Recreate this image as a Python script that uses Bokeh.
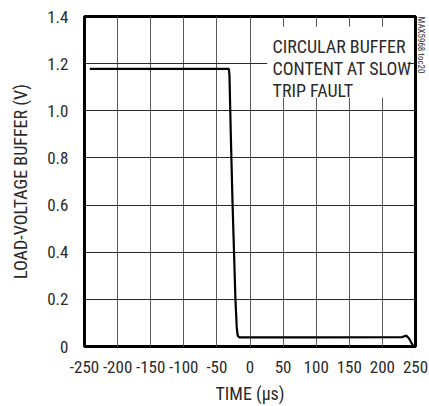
from bokeh.plotting import figure
from bokeh.models import Range1d, FixedTicker, BoxAnnotation, Label, Title
from bokeh.embed import file_html
from bokeh.resources import INLINE

# ---- data ----
time_us = [-242, -32, -31, -29, -26.5, -22, -20, -18.5, -16, 0, 100, 230, 236, 240, 247]
load_v = [1.178, 1.178, 1.15, 0.90, 0.62, 0.20, 0.08, 0.045, 0.039, 0.039, 0.039, 0.040, 0.046, 0.035, 0.0]

x_ticks = [-250, -200, -150, -100, -50, 0, 50, 100, 150, 200, 250]
x_tick_labels = ["-250", "-200", "-150", "-100", "-50", "0", "50", "100", "150", "200", "250"]
y_ticks = [0, 0.2, 0.4, 0.6, 0.8, 1.0, 1.2, 1.4]
y_tick_labels = ["0", "0.2", "0.4", "0.6", "0.8", "1.0", "1.2", "1.4"]

note_lines = ["CIRCULAR BUFFER", "CONTENT AT SLOW", "TRIP FAULT"]
side_note = "MAX5968 toc20"

FONT = "Roboto Condensed"
TXT = "#2a2a2a"

p = figure(width=429, height=406, output_backend="svg", toolbar_location=None,
           x_range=Range1d(-250, 250), y_range=Range1d(0, 1.4),
           min_border_left=84, min_border_right=14, min_border_top=16, min_border_bottom=59)

p.background_fill_color = "white"
p.border_fill_color = "white"
p.outline_line_color = "black"
p.outline_line_width = 3

p.xaxis.ticker = FixedTicker(ticks=x_ticks)
p.yaxis.ticker = FixedTicker(ticks=y_ticks)
p.xaxis.major_label_overrides = {t: l for t, l in zip(x_ticks, x_tick_labels)}
p.yaxis.major_label_overrides = {t: l for t, l in zip(y_ticks, y_tick_labels)}

for ax in (p.xaxis, p.yaxis):
    ax.axis_line_color = None
    ax.major_tick_line_color = None
    ax.minor_tick_line_color = None
    ax.major_tick_out = 0
    ax.major_tick_in = 0
    ax.major_label_text_font = FONT
    ax.major_label_text_font_size = "17px"
    ax.major_label_text_color = TXT
    ax.axis_label_text_font = FONT
    ax.axis_label_text_font_size = "18px"
    ax.axis_label_text_font_style = "normal"
    ax.axis_label_text_color = TXT

p.xaxis.axis_label = "TIME (µs)"
p.yaxis.axis_label = "LOAD-VOLTAGE BUFFER (V)"
p.xaxis.major_label_standoff = 14
p.yaxis.major_label_standoff = 16
p.xaxis.axis_label_standoff = 7
p.yaxis.axis_label_standoff = 13

p.xgrid.ticker = FixedTicker(ticks=x_ticks)
p.ygrid.ticker = FixedTicker(ticks=y_ticks)
p.xgrid.grid_line_color = "#5a5a5a"
p.ygrid.grid_line_color = "#2a2a2a"
p.xgrid.grid_line_width = 1
p.ygrid.grid_line_width = 1

p.line(time_us, load_v, line_color="black", line_width=2.2)

# white background behind the note
p.add_layout(BoxAnnotation(left=26, right=238, bottom=1.055, top=1.356,
                           fill_color="white", fill_alpha=1.0, line_color=None))

for i, txt in enumerate(note_lines):
    p.add_layout(Label(x=34, y=1.272 - i * 0.092, text=txt, text_font=FONT,
                       text_font_size="18px", text_color=TXT,
                       text_baseline="alphabetic", text_align="left"))

# figure code in the narrow right margin, near the top
p.add_layout(Title(text=side_note, align="left", text_font=FONT, text_font_size="9px",
                   text_font_style="normal", text_color="#333333",
                   standoff=0, offset=0), "right")

open("out.html", "w").write(file_html(p, INLINE))
